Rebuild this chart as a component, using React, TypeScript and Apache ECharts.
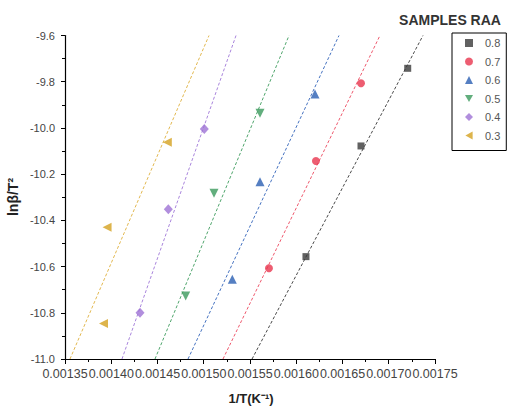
import React, { useEffect, useRef } from "react";
import * as echarts from "echarts";

// Sample groups (RAA) and colours
const groups = ["0.8", "0.7", "0.6", "0.5", "0.4", "0.3"];
const colors = ["#3a3a3a", "#e8344e", "#2b5fb3", "#3b9a5d", "#9d72d5", "#d5a11f"];
const lineColors = ["#4a4a4a", "#ee5a6e", "#4572c0", "#4fa56c", "#a985dc", "#e2b850"];

// 1/T (K^-1) values for each group
const x08 = [0.0017205, 0.00167, 0.0016105];
const x07 = [0.00167, 0.0016213, 0.0015705];
const x06 = [0.0016203, 0.0015608, 0.0015309];
const x05 = [0.0015608, 0.0015111, 0.0014805];
const x04 = [0.0015006, 0.0014617, 0.0014311];
const x03 = [0.0014606, 0.0013955, 0.0013916];

// ln(beta/T^2) values for each group
const y08 = [-9.742, -10.078, -10.557];
const y07 = [-9.807, -10.143, -10.607];
const y06 = [-9.853, -10.233, -10.655];
const y05 = [-9.937, -10.283, -10.727];
const y04 = [-10.005, -10.352, -10.8];
const y03 = [-10.062, -10.43, -10.846];

// Linear fit lines: x at the y-ends of the plot
const fitY = [-11.0, -9.6];
const fitXStart = [0.0015522, 0.0015208, 0.001483, 0.0014473, 0.0014116, 0.0013554];
const fitXEnd = [0.001737, 0.0016905, 0.0016462, 0.0015922, 0.0015349, 0.0015057];

// Axis ticks
const xMin = 0.00135;
const xMax = 0.00175;
const xStep = 0.00005;
const yMin = -11.0;
const yMax = -9.6;
const yStep = 0.2;

const xs = [x08, x07, x06, x05, x04, x03];
const ys = [y08, y07, y06, y05, y04, y03];
const symbols = [
  "rect",
  "circle",
  "triangle",
  "path://M0,0L10,0L5,9Z",
  "diamond",
  "path://M0,5L9,0L9,10Z",
];
const symbolSizes: any[] = [7, 8, 9, 9, [9, 10], 9];

export default function App() {
  const ref = useRef<HTMLDivElement>(null);
  useEffect(() => {
    document.body.style.margin = "0";
    if (!ref.current) return;
    const chart = echarts.init(ref.current, null, { renderer: "svg" });
    const scatterSeries = groups.map((g, i) => ({
      type: "scatter",
      name: g,
      data: xs[i].map((x, j) => [x, ys[i][j]]),
      symbol: symbols[i],
      symbolSize: symbolSizes[i],
      itemStyle: { color: colors[i] },
      z: 5,
    }));
    const fitSeries = groups.map((g, i) => ({
      type: "line",
      name: "fit " + g,
      data: [
        [fitXStart[i], fitY[0]],
        [fitXEnd[i], fitY[1]],
      ],
      showSymbol: false,
      symbol: "none",
      lineStyle: { color: lineColors[i], width: 1, type: [3, 2] },
      z: 2,
      silent: true,
    }));
    chart.setOption({
      animation: false,
      grid: { left: 65, right: 79, top: 35.5, bottom: 49, containLabel: false },
      xAxis: {
        type: "value",
        min: xMin,
        max: xMax,
        interval: xStep,
        axisLine: { lineStyle: { color: "#000", width: 1.2 } },
        axisTick: { show: true, length: 5, lineStyle: { color: "#000" } },
        minorTick: { show: true, splitNumber: 2, length: 3, lineStyle: { color: "#000" } },
        splitLine: { show: false },
        axisLabel: {
          formatter: (v: number) => v.toFixed(5),
          fontFamily: "Liberation Sans",
          fontSize: 12.5,
          color: "#444",
          margin: 8,
          hideOverlap: false,
          showMinLabel: true,
          showMaxLabel: true,
        },
      },
      yAxis: {
        type: "value",
        min: yMin,
        max: yMax,
        interval: yStep,
        axisLine: { show: true, lineStyle: { color: "#000", width: 1.2 } },
        axisTick: { show: true, length: 4, lineStyle: { color: "#000" } },
        minorTick: { show: true, splitNumber: 2, length: 3, lineStyle: { color: "#000" } },
        splitLine: { show: false },
        axisLabel: {
          formatter: (v: number) => v.toFixed(1),
          fontFamily: "Liberation Sans",
          fontSize: 11,
          color: "#444",
          margin: 10,
        },
      },
      legend: {
        data: groups,
        orient: "vertical",
        left: 452,
        top: 33,
        padding: [4, 6, 9, 13],
        itemGap: 6.5,
        itemWidth: 8,
        itemHeight: 8,
        borderColor: "#000",
        borderWidth: 1,
        textStyle: { fontFamily: "Liberation Sans", fontSize: 11, color: "#555", lineHeight: 12, padding: [0, 0, 0, 7] },
      },
      graphic: [
        {
          type: "text",
          x: 450,
          y: 20,
          style: {
            text: "SAMPLES RAA",
            fontFamily: "Liberation Sans",
            fontWeight: "bold",
            fontSize: 14,
            fill: "#333",
            textAlign: "center",
            textVerticalAlign: "middle",
          },
        },
        {
          type: "text",
          x: 251,
          y: 398,
          style: {
            text: "1/T(K\u207B\u00B9)",
            fontFamily: "Liberation Sans",
            fontWeight: "bold",
            fontSize: 13,
            fill: "#222",
            textAlign: "center",
            textVerticalAlign: "middle",
          },
        },
        {
          type: "text",
          x: 13,
          y: 197,
          rotation: Math.PI / 2,
          style: {
            text: "ln\u03B2/T\u00B2",
            fontFamily: "Liberation Sans",
            fontWeight: "bold",
            fontSize: 14,
            fill: "#222",
            textAlign: "center",
            textVerticalAlign: "middle",
          },
        },
      ],
      series: [...fitSeries, ...scatterSeries],
    });
    return () => chart.dispose();
  }, []);
  return <div ref={ref} style={{ width: 514, height: 408 }} />;
}
